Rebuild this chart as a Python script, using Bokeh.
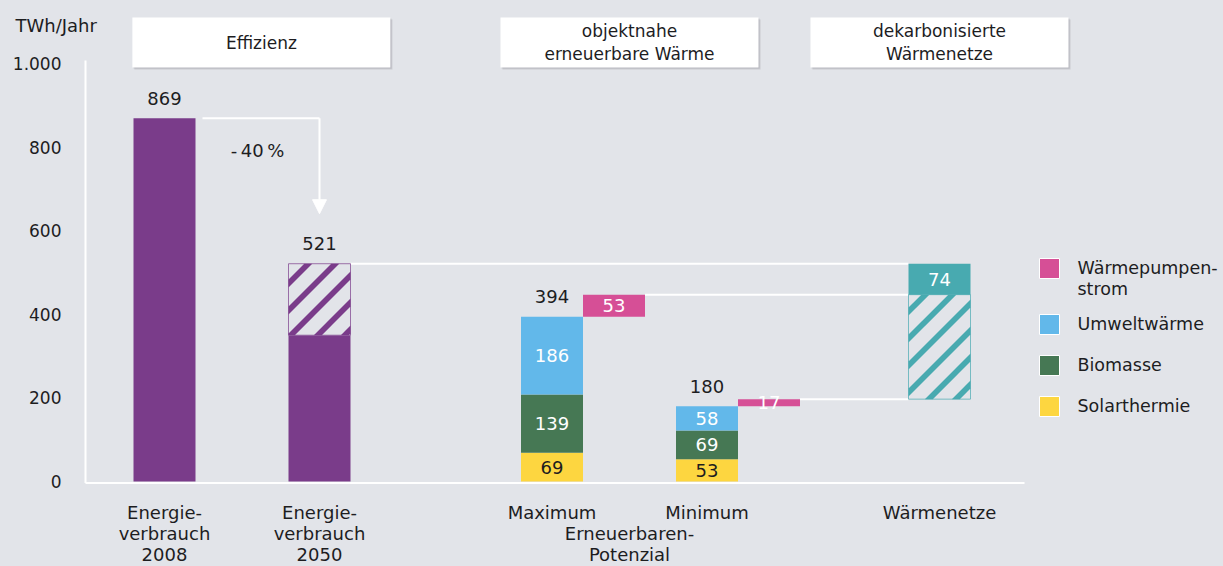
from bokeh.plotting import figure
from bokeh.models import Range1d, LinearAxis, FixedTicker, Arrow, NormalHead
from bokeh.core.properties import value
from bokeh.embed import file_html
from bokeh.resources import INLINE

# ---------------- data ----------------
categories = ["Energie-\nverbrauch\n2008", "Energie-\nverbrauch\n2050",
              "Maximum", "Minimum", "Wärmenetze"]
group_label = "\nErneuerbaren-\nPotenzial"
consumption = [869, 521]          # 2008, 2050
consumption_2050_solid = 350      # solid part of the 2050 bar
solar = [69, 53]                  # Maximum, Minimum
biomass = [139, 69]
ambient = [186, 58]
heatpump = [53, 17]
grid_extra = 74
efficiency_label = "-\u200940\u2009%"
y_ticks = [0, 200, 400, 600, 800, 1000]
y_tick_labels = ["0", "200", "400", "600", "800", "1.000"]
headers = ["Effizienz", "objektnahe\nerneuerbare Wärme", "dekarbonisierte\nWärmenetze"]
legend_labels = ["Wärmepumpen-\nstrom", "Umweltwärme", "Biomasse", "Solarthermie"]

# ---------------- style / layout ----------------
BG = "#E2E4E9"
PURPLE = "#7A3C8A"
PINK = "#D64F96"
BLUE = "#62B8EA"
GREEN = "#467854"
YELLOW = "#FDD640"
TEAL = "#48AAB0"
TXT = "#1d1d1f"
FONT = "DejaVu Sans"
legend_colors = [PINK, BLUE, GREEN, YELLOW]
HATCH_PERIOD, HATCH_BAND = 27, 8     # px, measured along x

W, H = 1223, 566
X0, SX = 164, 155        # canvas x of position 0, px per position unit
Y0, SY = 481, 0.418      # canvas y of value 0, px per TWh
BAR_W = 0.4
CAT_X = [0, 1, 2.5, 3.5, 5]
GROUP_X = 3.0
HEADER_X = [0.625, 3.0, 5.0]


def xd(cx):
    return (cx - X0) / SX


def yd(cy):
    return (Y0 - cy) / SY


def px_x(px):
    return px / SX


def px_y(px):
    return px / SY


def _clip(poly, f):
    out = []
    n = len(poly)
    for i in range(n):
        a, b = poly[i], poly[(i + 1) % n]
        fa, fb = f(a), f(b)
        if fa >= 0:
            out.append(a)
        if (fa >= 0) != (fb >= 0):
            t = fa / (fa - fb)
            out.append((a[0] + t * (b[0] - a[0]), a[1] + t * (b[1] - a[1])))
    return out


def hatch_stripes(x, width, bottom, top):
    """45-degree stripe polygons inside a bar, returned in data coordinates."""
    L, R = X0 + SX * (x - width / 2), X0 + SX * (x + width / 2)
    T, B = Y0 - SY * top, Y0 - SY * bottom
    rect = [(L, T), (R, T), (R, B), (L, B)]
    xs, ys = [], []
    c = (int((L + T) // HATCH_PERIOD) - 1) * HATCH_PERIOD
    while c < R + B:
        poly = _clip(rect, lambda q: q[0] + q[1] - c)
        poly = _clip(poly, lambda q: c + HATCH_BAND - (q[0] + q[1]))
        if len(poly) >= 3:
            xs.append([xd(q[0]) for q in poly])
            ys.append([yd(q[1]) for q in poly])
        c += HATCH_PERIOD
    return xs, ys


def hatched_bar(x, bottom, top, color):
    p.vbar(x=[x], width=BAR_W, bottom=[bottom], top=[top], fill_color=BG, line_color=None)
    xs, ys = hatch_stripes(x, BAR_W, bottom, top)
    p.patches(xs=xs, ys=ys, fill_color=color, line_color=None)
    p.vbar(x=[x], width=BAR_W, bottom=[bottom], top=[top], fill_color=None,
           line_color=color, line_width=1, line_alpha=0.7)


p = figure(width=W, height=H, output_backend="svg", toolbar_location=None,
           x_range=Range1d(xd(0), xd(W)), y_range=Range1d(yd(H), yd(0)),
           x_axis_location=None, y_axis_location=None,
           background_fill_color=BG, border_fill_color=BG,
           outline_line_color=None, min_border=0)
p.min_border_left = p.min_border_right = p.min_border_top = p.min_border_bottom = 0
p.title.visible = False
p.xgrid.visible = False
p.ygrid.visible = False

# ---- axes ----
yaxis = LinearAxis(fixed_location=xd(83), ticker=FixedTicker(ticks=y_ticks),
                   major_label_overrides={t: l for t, l in zip(y_ticks, y_tick_labels)},
                   axis_line_color=None, major_tick_line_color=None,
                   minor_tick_line_color=None, major_tick_out=0, major_tick_in=0,
                   major_label_standoff=22,
                   major_label_text_font=FONT, major_label_text_font_size="17px",
                   major_label_text_color=TXT)
p.add_layout(yaxis, "left")

x_ticks = CAT_X + [GROUP_X]
x_labels = categories + [group_label]
xaxis = LinearAxis(fixed_location=0, ticker=FixedTicker(ticks=x_ticks),
                   major_label_overrides={t: l for t, l in zip(x_ticks, x_labels)},
                   axis_line_color=None, major_tick_line_color=None,
                   minor_tick_line_color=None, major_tick_out=0, major_tick_in=0,
                   major_label_standoff=20,
                   major_label_text_font=FONT, major_label_text_font_size="18px",
                   major_label_text_color=TXT, major_label_text_line_height=1.0)
p.add_layout(xaxis, "below")

# white axis lines
p.segment(x0=[xd(85)], y0=[-px_y(1.5)], x1=[xd(85)], y1=[yd(60)],
          line_color="white", line_width=2)
p.segment(x0=[xd(85)], y0=[-px_y(1.5)], x1=[xd(1024)], y1=[-px_y(1.5)],
          line_color="white", line_width=2)

# ---- header boxes ----
hw = px_x(129)
htop, hbot = yd(17), yd(67)
p.quad(left=[c - hw + px_x(2) for c in HEADER_X], right=[c + hw + px_x(2) for c in HEADER_X],
       top=[htop - px_y(2)] * 3, bottom=[hbot - px_y(2)] * 3,
       fill_color="#9a9ca3", fill_alpha=0.35, line_color=None)
p.quad(left=[c - hw + px_x(1) for c in HEADER_X], right=[c + hw + px_x(1) for c in HEADER_X],
       top=[htop - px_y(1)] * 3, bottom=[hbot - px_y(1)] * 3,
       fill_color="#9a9ca3", fill_alpha=0.35, line_color=None)
p.quad(left=[c - hw for c in HEADER_X], right=[c + hw for c in HEADER_X],
       top=[htop] * 3, bottom=[hbot] * 3, fill_color="white", line_color=None)
p.text(x=HEADER_X, y=[yd(42)] * 3, text=headers, text_align="center",
       text_baseline="middle", text_font=value(FONT), text_font_size="17px",
       text_color=TXT, text_line_height=1.15)

p.text(x=[xd(15)], y=[yd(25)], text=["TWh/Jahr"], text_align="left",
       text_baseline="middle", text_font=value(FONT), text_font_size="18px",
       text_color=TXT)

# ---- connector lines ----
tot = [s + b + a for s, b, a in zip(solar, biomass, ambient)]
hp_top = [t + h for t, h in zip(tot, heatpump)]
grid_bottom = hp_top[1]
grid_hatch_top = hp_top[0]
grid_top = grid_hatch_top + grid_extra
wn_left = CAT_X[4] - BAR_W / 2
p.segment(x0=[CAT_X[1] + BAR_W / 2, CAT_X[2] + 1.5 * BAR_W, CAT_X[3] + 1.5 * BAR_W],
          y0=[consumption[1], hp_top[0], hp_top[1]],
          x1=[wn_left] * 3, y1=[consumption[1], hp_top[0], hp_top[1]],
          line_color="white", line_width=2)

# efficiency arrow
p.segment(x0=[CAT_X[0] + BAR_W / 2 + px_x(7)], y0=[consumption[0]],
          x1=[CAT_X[1]], y1=[consumption[0]], line_color="white", line_width=2)
p.add_layout(Arrow(end=NormalHead(size=14, fill_color="white", line_color="white"),
                   x_start=CAT_X[1], y_start=consumption[0],
                   x_end=CAT_X[1], y_end=consumption[1] + px_y(50),
                   line_color="white", line_width=2))
p.text(x=[(CAT_X[0] + BAR_W / 2 + CAT_X[1]) / 2], y=[yd(150)], text=[efficiency_label],
       text_align="center", text_baseline="middle", text_font=value(FONT),
       text_font_size="18px", text_color=TXT)

# ---- bars ----
p.vbar(x=CAT_X[:2], width=BAR_W, bottom=0, top=[consumption[0], consumption_2050_solid],
       fill_color=PURPLE, line_color=None)
hatched_bar(CAT_X[1], consumption_2050_solid, consumption[1], PURPLE)

rx = CAT_X[2:4]
s_top = solar
b_top = [s + b for s, b in zip(solar, biomass)]
p.vbar(x=rx, width=BAR_W, bottom=0, top=s_top, fill_color=YELLOW, line_color=None)
p.vbar(x=rx, width=BAR_W, bottom=s_top, top=b_top, fill_color=GREEN, line_color=None)
p.vbar(x=rx, width=BAR_W, bottom=b_top, top=tot, fill_color=BLUE, line_color=None)
hx = [x + BAR_W for x in rx]
p.vbar(x=hx, width=BAR_W, bottom=tot, top=hp_top, fill_color=PINK, line_color=None)

hatched_bar(CAT_X[4], grid_bottom, grid_hatch_top, TEAL)
p.vbar(x=[CAT_X[4]], width=BAR_W, bottom=[grid_hatch_top], top=[grid_top],
       fill_color=TEAL, line_color=None)

# ---- value labels ----
gap = px_y(20)
p.text(x=CAT_X[:4], y=[consumption[0] + gap, consumption[1] + gap, tot[0] + gap, tot[1] + gap],
       text=[str(consumption[0]), str(consumption[1]), str(tot[0]), str(tot[1])],
       text_align="center", text_baseline="middle", text_font=value(FONT),
       text_font_size="18px", text_color=TXT)
p.text(x=rx, y=[s / 2 for s in s_top], text=[str(v) for v in solar],
       text_align="center", text_baseline="middle", text_font=value(FONT),
       text_font_size="18px", text_color=TXT)
p.text(x=rx + rx + hx + [CAT_X[4]],
       y=[(a + b) / 2 for a, b in zip(s_top, b_top)] + [(a + b) / 2 for a, b in zip(b_top, tot)]
         + [(a + b) / 2 for a, b in zip(tot, hp_top)] + [(grid_hatch_top + grid_top) / 2],
       text=[str(v) for v in biomass] + [str(v) for v in ambient] + [str(v) for v in heatpump]
            + [str(grid_extra)],
       text_align="center", text_baseline="middle", text_font=value(FONT),
       text_font_size="18px", text_color="white")

# ---- legend ----
leg_y = []
cy = 268
for lab in legend_labels:
    leg_y.append(cy)
    cy += 41 + 15 * lab.count("\n")
p.rect(x=[xd(1049)] * 4, y=[yd(c) for c in leg_y], width=20, height=20,
       width_units="screen", height_units="screen", fill_color=legend_colors,
       line_color="white", line_width=1)
p.text(x=[xd(1077)] * 4, y=[yd(c - 11) for c in leg_y], text=legend_labels,
       text_align="left", text_baseline="top", text_font=value(FONT),
       text_font_size="17.5px", text_color=TXT, text_line_height=1.05)

html = file_html(p, INLINE)
html = html.replace("</head>", "<style>html,body{background:%s;}</style></head>" % BG, 1)
open("out.html", "w").write(html)
